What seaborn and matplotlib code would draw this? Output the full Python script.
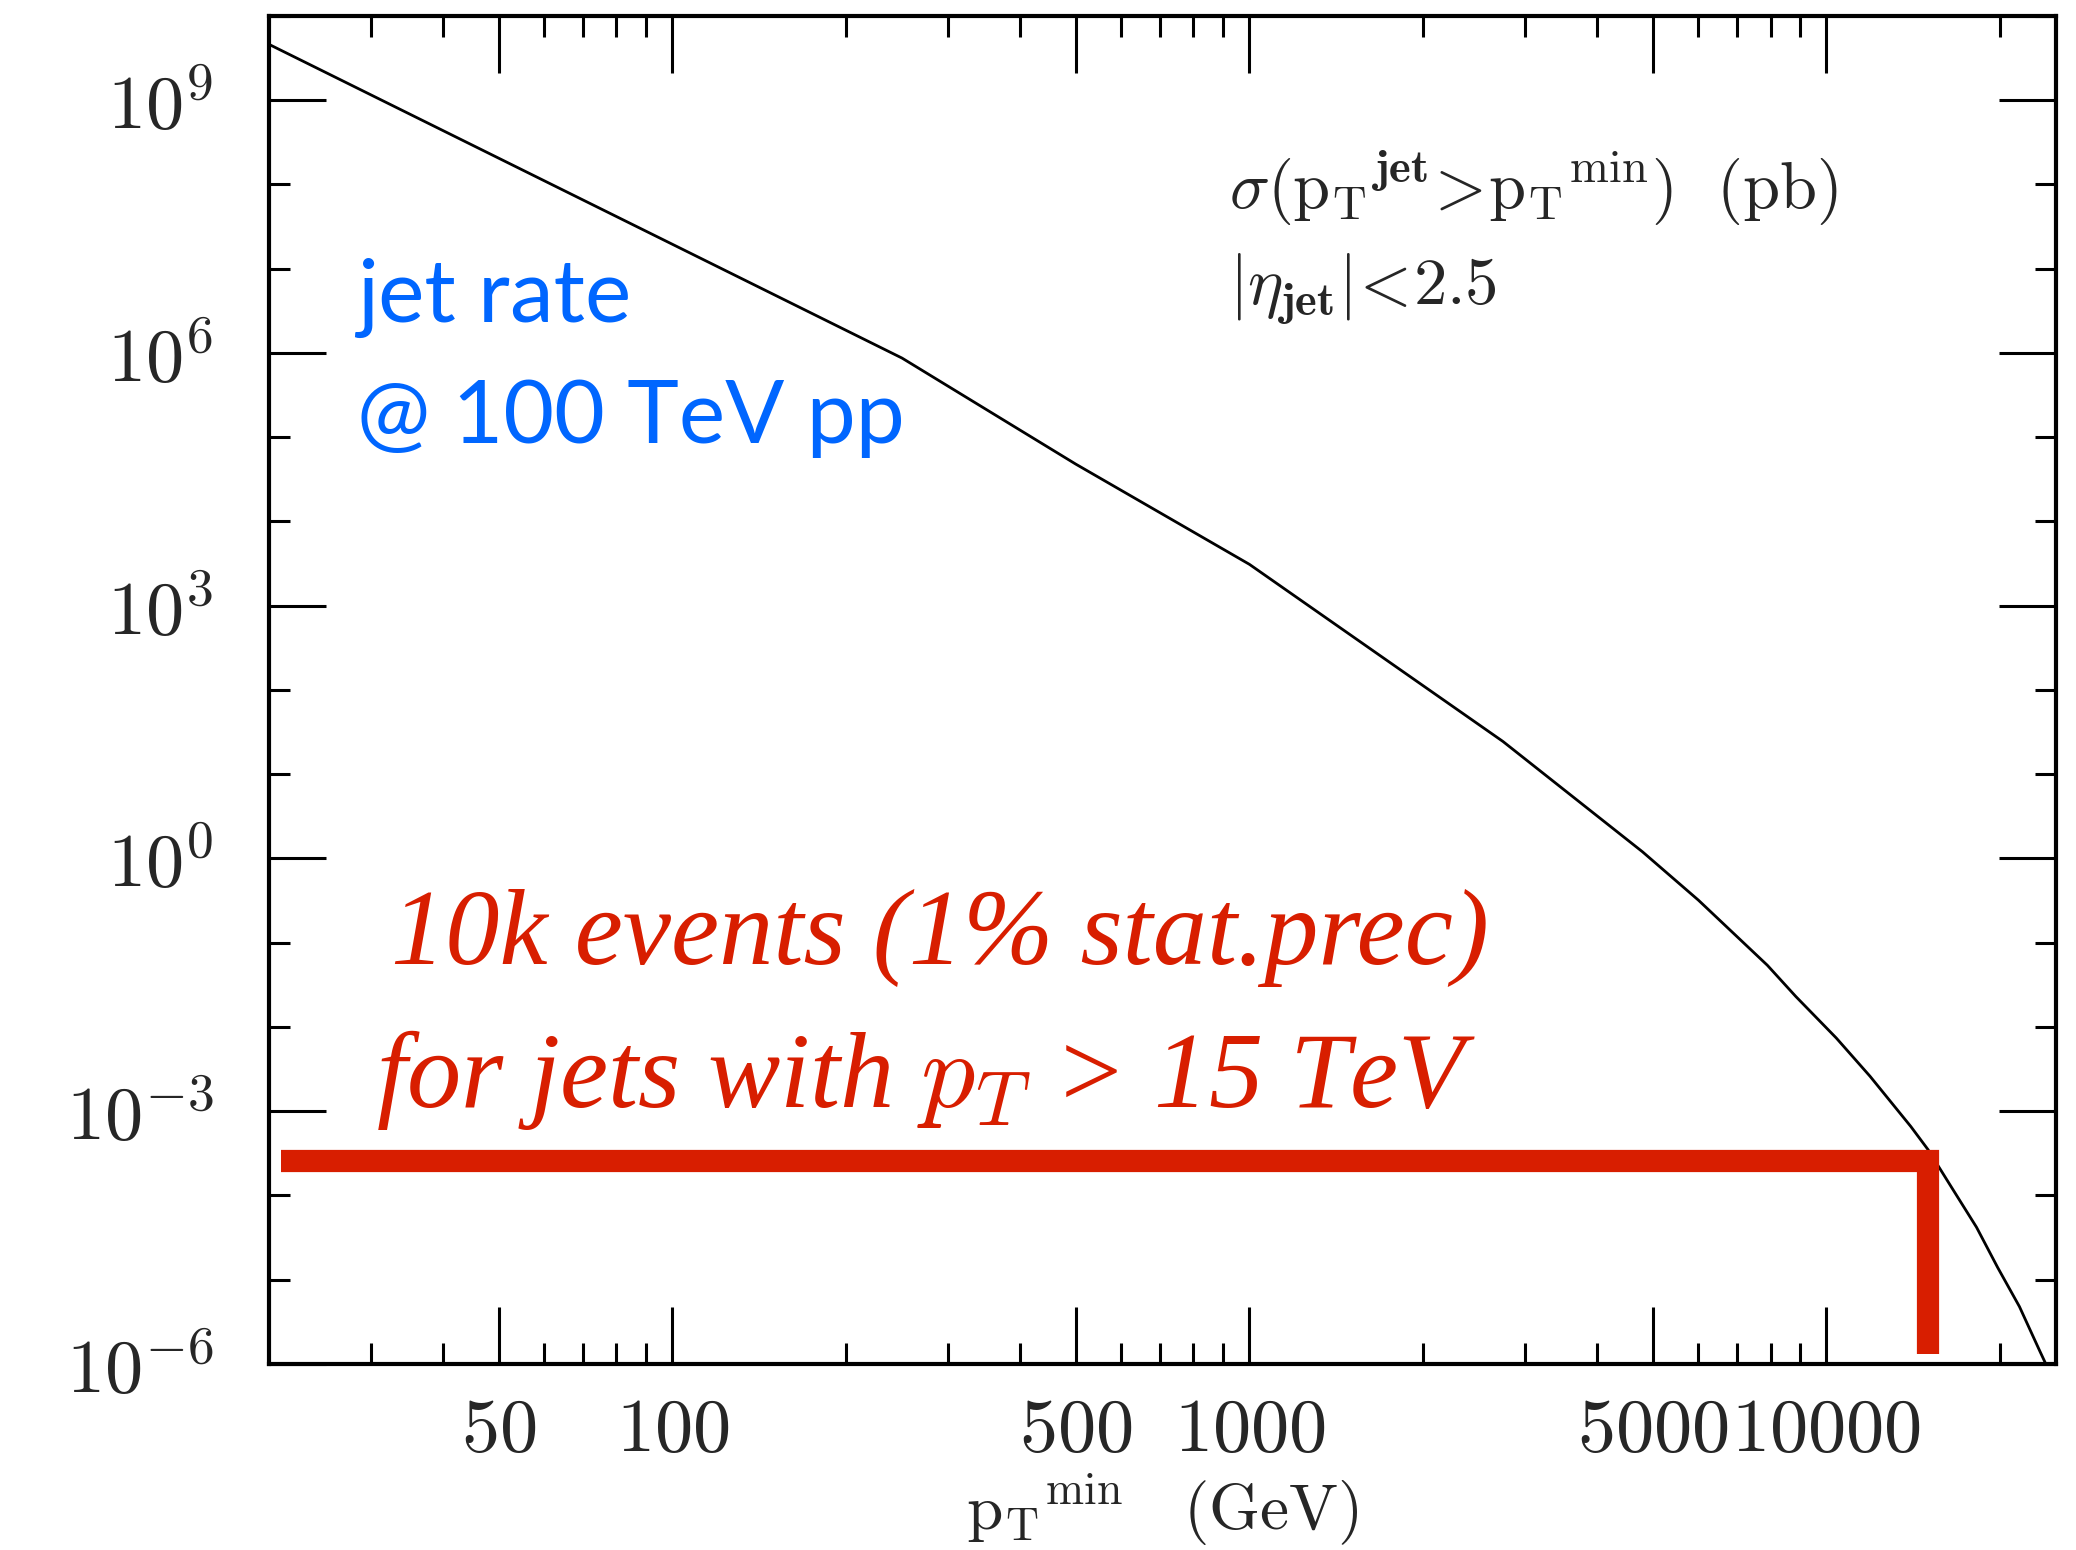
import matplotlib
matplotlib.use("Agg")
import pandas as pd
import matplotlib.pyplot as plt
import matplotlib.ticker as mticker
import seaborn as sns


# cross section curve: pT_min (GeV) -> sigma (pb)
PT_MIN = [20, 250, 500, 1000, 2750, 4800, 6000, 7900, 8850, 10400,
          11900, 14000, 15000, 16600, 18200, 19800, 21600, 23400, 24000]
SIGMA = [4.6e9, 8.7e5, 4.8e4, 3.1e3, 24.5, 1.2, 0.32, 0.054, 0.023, 7.4e-3,
         2.6e-3, 6.6e-4, 3.5e-4, 1.15e-4, 4.2e-5, 1.4e-5, 4.8e-6, 1.45e-6, 1.0e-6]

# the red "10k events" marker
STAT_PT = [21, 15000, 15000]
STAT_SIGMA = [2.6e-4, 2.6e-4, 1.3e-6]

X_MAJOR = [50, 100, 500, 1000, 5000, 10000]
X_MAJOR_LABELS = ["50", "100", "500", "1000", "5000", "10000"]
X_MINOR = [30, 40, 60, 70, 80, 90, 200, 300, 400, 600, 700, 800, 900,
           2000, 3000, 4000, 6000, 7000, 8000, 9000, 20000]
Y_MAJOR_EXP = [-6, -3, 0, 3, 6, 9]
Y_MINOR_EXP = [-5, -4, -2, -1, 1, 2, 4, 5, 7, 8, 10]

BLUE = "#0066ff"
RED = "#d81e00"


def main() -> None:
    sns.set_style("ticks")
    plt.rcParams["mathtext.fontset"] = "cm"
    plt.rcParams["font.family"] = ["DejaVu Serif"]

    fig = plt.figure(figsize=(20.76, 15.5), dpi=100)
    ax = fig.add_axes([0.1296, 0.12, 0.8608, 0.8697])

    df = pd.DataFrame({"pt": PT_MIN, "sigma": SIGMA})
    sns.lineplot(data=df, x="pt", y="sigma", ax=ax, color="black",
                 linewidth=2.0, estimator=None, sort=False)
    ax.plot(STAT_PT, STAT_SIGMA, color=RED, linewidth=16,
            solid_joinstyle="miter", solid_capstyle="butt")

    ax.set_xscale("log")
    ax.set_yscale("log")
    ax.set_xlim(20, 25000)
    ax.set_ylim(1e-6, 1e10)

    ax.xaxis.set_major_locator(mticker.FixedLocator(X_MAJOR))
    ax.xaxis.set_major_formatter(
        mticker.FixedFormatter([f"${s}$" for s in X_MAJOR_LABELS]))
    ax.xaxis.set_minor_locator(mticker.FixedLocator(X_MINOR))
    ax.xaxis.set_minor_formatter(mticker.NullFormatter())

    ax.yaxis.set_major_locator(mticker.FixedLocator([10.0 ** e for e in Y_MAJOR_EXP]))
    ax.yaxis.set_major_formatter(
        mticker.FixedFormatter([f"$10^{{{e}}}$" for e in Y_MAJOR_EXP]))
    ax.yaxis.set_minor_locator(mticker.FixedLocator([10.0 ** e for e in Y_MINOR_EXP]))
    ax.yaxis.set_minor_formatter(mticker.NullFormatter())

    ax.tick_params(which="both", direction="in", top=True, right=True,
                   width=2.2, color="black", labelsize=55)
    ax.tick_params(which="major", length=41)
    ax.tick_params(which="minor", length=15)
    ax.tick_params(axis="x", which="major", pad=21)
    ax.tick_params(axis="y", which="major", pad=40)
    for side in ax.spines.values():
        side.set_linewidth(3)
        side.set_color("black")

    ax.set_xlabel(r"$\mathrm{{p_T}^{min}}\ \ \ \mathrm{(GeV)}$", fontsize=47)
    ax.xaxis.set_label_coords(0.5, -0.080)
    ax.set_ylabel("")

    ax.text(0.537, 0.857,
            r"$\sigma(\mathrm{{p_T}^{\mathbf{jet}}\!>\!{p_T}^{min}})\ \ \mathrm{(pb)}$",
            transform=ax.transAxes, fontsize=48, ha="left", va="baseline")
    ax.text(0.537, 0.786, r"$|\eta_{\mathbf{jet}}|\!<\!2.5$",
            transform=ax.transAxes, fontsize=48, ha="left", va="baseline")

    blue_font = ["Lato", "Open Sans"]
    ax.text(0.049, 0.773, "jet rate", transform=ax.transAxes, fontsize=63,
            color=BLUE, family=blue_font, ha="left", va="baseline")
    ax.text(0.049, 0.683, "@ 100 TeV pp", transform=ax.transAxes, fontsize=63,
            color=BLUE, family=blue_font, ha="left", va="baseline")

    ax.text(0.068, 0.297, "10k events (1% stat.prec)", transform=ax.transAxes,
            fontsize=78, color=RED, family="Liberation Serif", style="italic",
            ha="left", va="baseline")
    ax.text(0.060, 0.191, r"for jets with $p_T$ > 15 TeV", transform=ax.transAxes,
            fontsize=78, color=RED, family="Liberation Serif", style="italic",
            ha="left", va="baseline")

    fig.savefig("out.png", dpi=100)


if __name__ == "__main__":
    main()
